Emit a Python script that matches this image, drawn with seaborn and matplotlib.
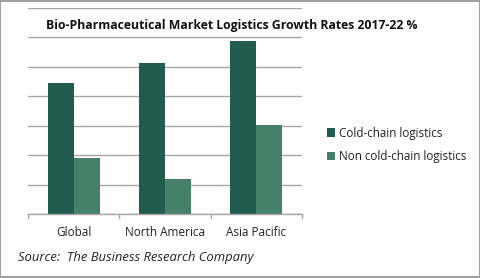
import matplotlib
matplotlib.use("Agg")
import matplotlib.pyplot as plt
import seaborn as sns
import pandas as pd
from matplotlib.patches import Rectangle

regions = ["Global", "North America", "Asia Pacific"]
series = ["Cold-chain logistics", "Non cold-chain logistics"]
cold_chain = [4.43, 5.11, 5.87]
non_cold_chain = [1.89, 1.18, 3.02]
colors = ["#225C4E", "#47806A"]

df = pd.DataFrame({
    "region": regions * 2,
    "series": [series[0]] * 3 + [series[1]] * 3,
    "value": cold_chain + non_cold_chain,
})

sns.set_style("white")
plt.rcParams["font.family"] = ["Open Sans", "DejaVu Sans"]

fig = plt.figure(figsize=(4.81, 2.78), dpi=100)
ax = fig.add_axes([28 / 481, 1 - 214 / 278, 274 / 481, (214 - 7.5) / 278])

sns.barplot(data=df, x="region", y="value", hue="series", palette=colors,
            width=0.57, saturation=1, linewidth=0, edgecolor="none",
            ax=ax, legend=True)

ax.set_ylim(0, 7)
ax.set_xlim(-0.5, 2.5)
ax.set_yticks(range(0, 8))
ax.yaxis.grid(True, color="#A6A6A6", linewidth=1)
ax.set_axisbelow(True)
ax.set_yticklabels([])
ax.tick_params(axis="y", length=0)
for s in ["left", "right", "top"]:
    ax.spines[s].set_visible(False)
ax.spines["bottom"].set_color("#A6A6A6")
ax.spines["bottom"].set_linewidth(1)
ax.set_xlabel("")
ax.set_ylabel("")
ax.set_xticks([0, 1, 2])
ax.set_xticklabels(regions, fontsize=8.5, color="#222222")
ax.tick_params(axis="x", length=0, pad=9)
for xb in [-0.5, 0.5, 1.5, 2.5]:
    ax.plot([xb, xb], [0, -0.13], color="#A6A6A6", lw=1, clip_on=False)

fig.text(232 / 481, 1 - 25 / 278, "Bio-Pharmaceutical Market Logistics Growth Rates 2017-22 %",
         ha="center", va="center", fontsize=8.8, fontweight="bold", color="#111111",
         bbox=dict(facecolor="white", edgecolor="none", pad=1.5))

leg = ax.legend(loc="upper left", bbox_to_anchor=(316 / 481, 1 - 116 / 278),
                bbox_transform=fig.transFigure, frameon=False, fontsize=8.4,
                handlelength=0.7, handleheight=0.7, handletextpad=0.4, labelspacing=0.9)
for t in leg.get_texts():
    t.set_color("#222222")

fig.text(18 / 481, 1 - 258 / 278, "Source:  The Business Research Company",
         ha="left", va="center", fontsize=9.4, style="italic", color="#222222")

fig.patches.append(Rectangle((0.001, 0.002), 0.997, 0.995, transform=fig.transFigure,
                             fill=False, edgecolor="#A0A0A0", linewidth=1.5))

fig.savefig("out.png", dpi=100)
